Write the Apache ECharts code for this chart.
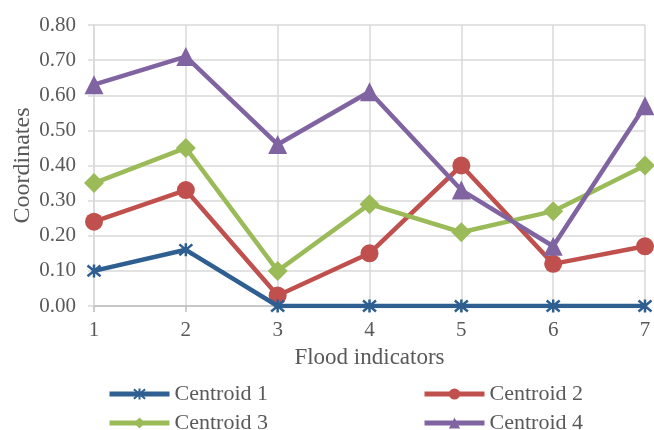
<!DOCTYPE html>
<html>
<head>
<meta charset="utf-8">
<script src="https://cdn.jsdelivr.net/npm/echarts@6/dist/echarts.min.js"></script>
<style>
  html, body { margin: 0; padding: 0; background: #ffffff; }
  #chart { width: 654px; height: 430px; }
</style>
</head>
<body>
<div id="chart"></div>
<script>
// Flood indicators on the x axis, centroid coordinates per cluster
const indicators = ['1', '2', '3', '4', '5', '6', '7'];
const centroid1 = [0.10, 0.16, 0.00, 0.00, 0.00, 0.00, 0.00];
const centroid2 = [0.24, 0.33, 0.03, 0.15, 0.40, 0.12, 0.17];
const centroid3 = [0.35, 0.45, 0.10, 0.29, 0.21, 0.27, 0.40];
const centroid4 = [0.63, 0.71, 0.46, 0.61, 0.33, 0.17, 0.57];
const seriesNames = ['Centroid 1', 'Centroid 2', 'Centroid 3', 'Centroid 4'];

const FONT = '"Liberation Serif", "DejaVu Serif", serif';
const TEXT = '#595959';
const GRID = '#d9d9d9';

// asterisk marker: an X crossed by a vertical bar
const asterisk = 'path://M0,0L10,10M10,0L0,10M5,-1L5,11';

function lineSeries(name, data, color, symbol, size, extra) {
  return Object.assign({
    name: name,
    type: 'line',
    data: data,
    symbol: symbol,
    symbolSize: size,
    showSymbol: true,
    lineStyle: { color: color, width: 4.5 },
    itemStyle: { color: color },
    emphasis: { disabled: true },
    z: 3
  }, extra || {});
}

// one legend entry per slot, laid out as a two-column block
function legendItem(name, left, top) {
  return {
    data: [name],
    left: left,
    top: top,
    padding: 0,
    itemWidth: 60,
    itemHeight: 14,
    itemGap: 5,
    lineStyle: { width: 5 },
    textStyle: { fontFamily: FONT, fontSize: 22, lineHeight: 22, color: TEXT }
  };
}

const chart = echarts.init(document.getElementById('chart'));
chart.setOption({
  animation: false,
  backgroundColor: '#ffffff',
  textStyle: { fontFamily: FONT, color: TEXT },
  grid: { left: 94, right: 9, top: 25, bottom: 124, containLabel: false, outerBoundsMode: 'none' },
  legend: [
    legendItem(seriesNames[0], 107, 383),
    legendItem(seriesNames[1], 422, 383),
    legendItem(seriesNames[2], 107, 412),
    legendItem(seriesNames[3], 422, 412)
  ],
  xAxis: {
    type: 'category',
    data: indicators,
    boundaryGap: false,
    name: 'Flood indicators',
    nameLocation: 'middle',
    nameGap: 40,
    nameMoveOverlap: false,
    nameTextStyle: { fontFamily: FONT, fontSize: 23, color: TEXT },
    axisLine: { show: true, lineStyle: { color: '#bfbfbf', width: 1.5 } },
    axisTick: { show: true, length: 6, alignWithLabel: true, lineStyle: { color: '#bfbfbf', width: 1.5 } },
    axisLabel: { fontFamily: FONT, fontSize: 21, color: TEXT, margin: 14 },
    splitLine: { show: true, lineStyle: { color: GRID, width: 1.5 } }
  },
  yAxis: {
    type: 'value',
    min: 0,
    max: 0.8,
    interval: 0.1,
    name: 'Coordinates',
    nameLocation: 'middle',
    nameGap: 59,
    nameMoveOverlap: false,
    nameRotate: 90,
    nameTextStyle: { fontFamily: FONT, fontSize: 24, color: TEXT },
    axisLine: { show: true, lineStyle: { color: GRID, width: 1.5 } },
    axisTick: { show: true, length: 6, lineStyle: { color: GRID, width: 1.5 } },
    axisLabel: {
      fontFamily: FONT, fontSize: 21, color: TEXT, margin: 18,
      formatter: v => v.toFixed(2)
    },
    splitLine: { show: true, lineStyle: { color: GRID, width: 1.5 } }
  },
  series: [
    lineSeries(seriesNames[0], centroid1, '#2f5f91', asterisk, 13, {
      itemStyle: { color: '#2f5f91', borderColor: '#2f5f91', borderWidth: 2.5 },
      z: 4
    }),
    lineSeries(seriesNames[1], centroid2, '#c0504d', 'circle', 18),
    lineSeries(seriesNames[2], centroid3, '#9bbb59', 'diamond', 20),
    lineSeries(seriesNames[3], centroid4, '#8064a2', 'triangle', 19)
  ]
});
</script>
</body>
</html>
